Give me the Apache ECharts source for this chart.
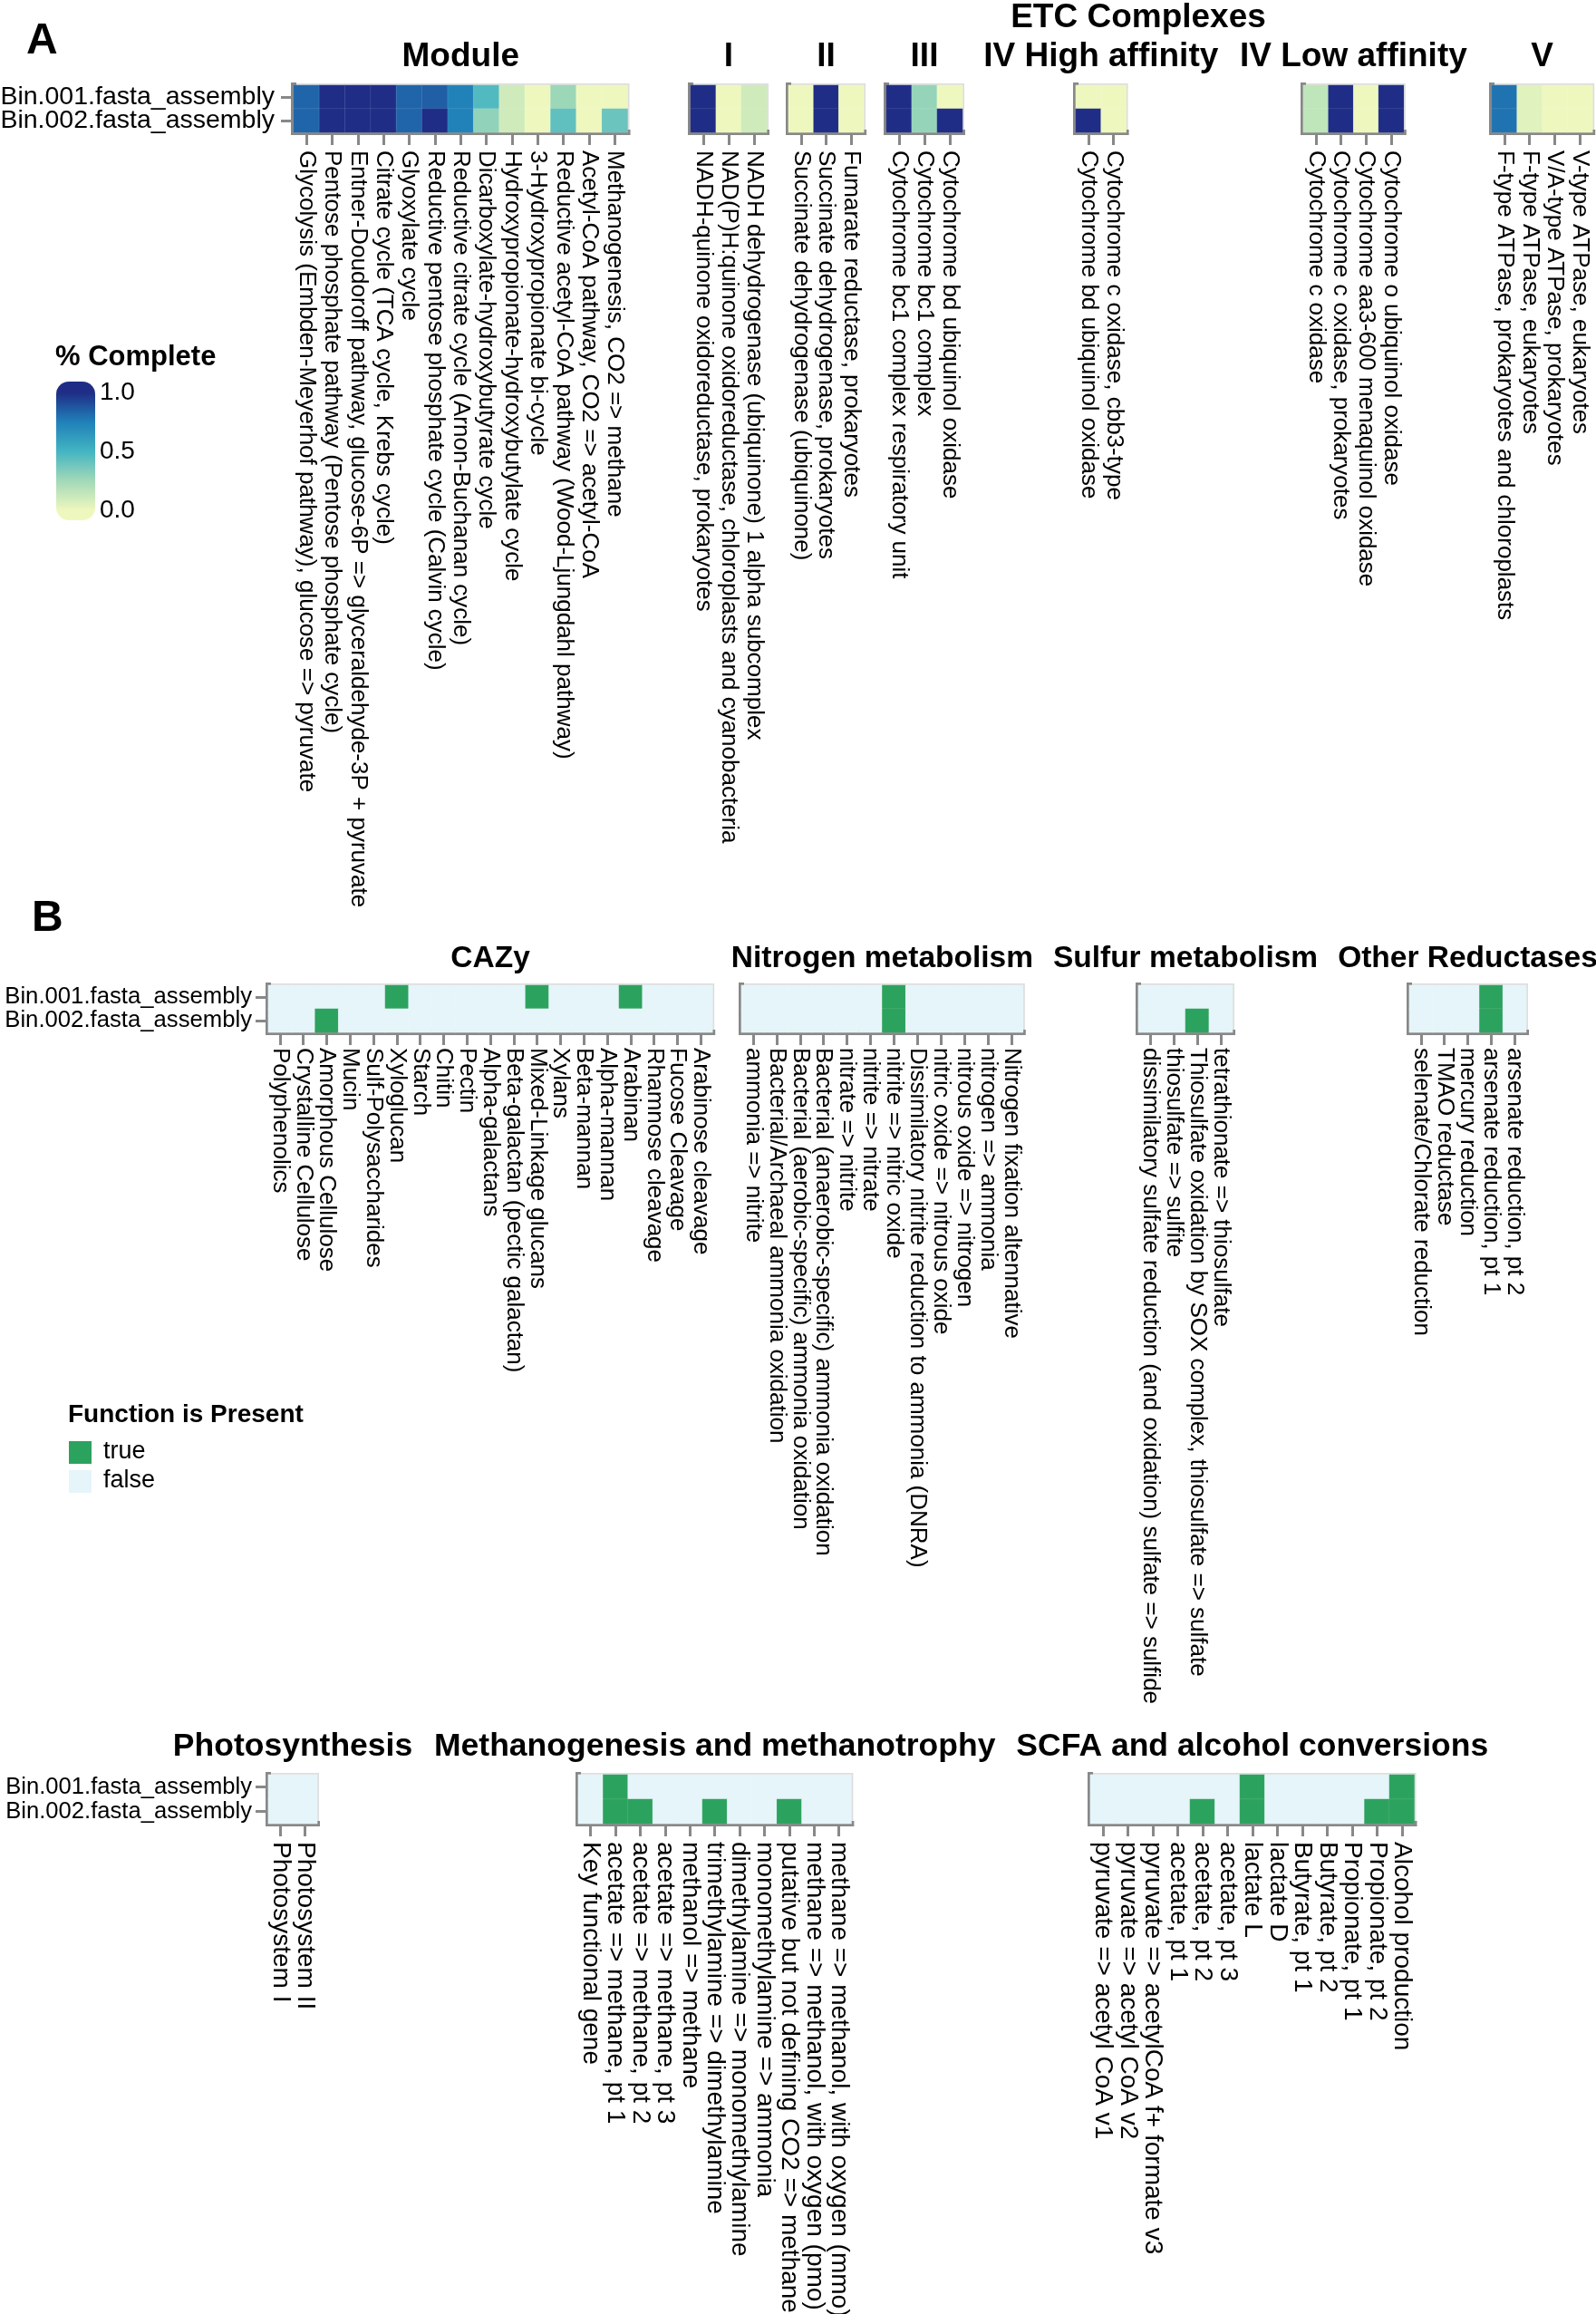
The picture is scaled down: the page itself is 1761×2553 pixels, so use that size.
<!DOCTYPE html>
<html><head><meta charset="utf-8">
<script src="https://cdn.jsdelivr.net/npm/echarts@6/dist/echarts.min.js"></script>
<style>html,body{margin:0;padding:0;background:#fff}#c{width:1761px;height:2553px}</style>
</head><body><div id="c"></div>
<script>
// ---------------- DATA ----------------
const bins = ['Bin.001.fasta_assembly', 'Bin.002.fasta_assembly'];

const moduleLabels = [
  'Glycolysis (Embden-Meyerhof pathway), glucose => pyruvate',
  'Pentose phosphate pathway (Pentose phosphate cycle)',
  'Entner-Doudoroff pathway, glucose-6P => glyceraldehyde-3P + pyruvate',
  'Citrate cycle (TCA cycle, Krebs cycle)',
  'Glyoxylate cycle',
  'Reductive pentose phosphate cycle (Calvin cycle)',
  'Reductive citrate cycle (Arnon-Buchanan cycle)',
  'Dicarboxylate-hydroxybutyrate cycle',
  'Hydroxypropionate-hydroxybutylate cycle',
  '3-Hydroxypropionate bi-cycle',
  'Reductive acetyl-CoA pathway (Wood-Ljungdahl pathway)',
  'Acetyl-CoA pathway, CO2 => acetyl-CoA',
  'Methanogenesis, CO2 => methane'
];
const moduleBin1 = [0.83, 1, 1, 1, 0.83, 0.85, 0.74, 0.46, 0.1, 0, 0.26, 0, 0];
const moduleBin2 = [0.83, 1, 1, 1, 0.83, 1, 0.74, 0.29, 0.1, 0, 0.42, 0, 0.39];

const etcILabels = ['NADH-quinone oxidoreductase, prokaryotes',
  'NAD(P)H:quinone oxidoreductase, chloroplasts and cyanobacteria',
  'NADH dehydrogenase (ubiquinone) 1 alpha subcomplex'];
const etcIBin1 = [1, 0, 0.1];
const etcIBin2 = [1, 0, 0.1];

const etcIILabels = ['Succinate dehydrogenase (ubiquinone)', 'Succinate dehydrogenase, prokaryotes',
  'Fumarate reductase, prokaryotes'];
const etcIIBin1 = [0, 1, 0];
const etcIIBin2 = [0, 1, 0];

const etcIIILabels = ['Cytochrome bc1 complex respiratory unit', 'Cytochrome bc1 complex',
  'Cytochrome bd ubiquinol oxidase'];
const etcIIIBin1 = [1, 0.28, 0];
const etcIIIBin2 = [1, 0.28, 1];

const etcIVHighLabels = ['Cytochrome bd ubiquinol oxidase', 'Cytochrome c oxidase, cbb3-type'];
const etcIVHighBin1 = [0, 0];
const etcIVHighBin2 = [1, 0];

const etcIVLowLabels = ['Cytochrome c oxidase', 'Cytochrome c oxidase, prokaryotes',
  'Cytochrome aa3-600 menaquinol oxidase', 'Cytochrome o ubiquinol oxidase'];
const etcIVLowBin1 = [0.15, 1, 0, 1];
const etcIVLowBin2 = [0.15, 1, 0, 1];

const etcVLabels = ['F-type ATPase, prokaryotes and chloroplasts', 'F-type ATPase, eukaryotes',
  'V/A-type ATPase, prokaryotes', 'V-type ATPase, eukaryotes'];
const etcVBin1 = [0.79, 0.045, 0, 0];
const etcVBin2 = [0.79, 0.045, 0, 0];

const cazyLabels = ['Polyphenolics', 'Crystalline Cellulose', 'Amorphous Cellulose', 'Mucin',
  'Sulf-Polysaccharides', 'Xyloglucan', 'Starch', 'Chitin', 'Pectin', 'Alpha-galactans',
  'Beta-galactan (pectic galactan)', 'Mixed-Linkage glucans', 'Xylans', 'Beta-mannan',
  'Alpha-mannan', 'Arabinan', 'Rhamnose cleavage', 'Fucose Cleavage', 'Arabinose cleavage'];
const cazyBin1 = [0,0,0,0,0,1,0,0,0,0,0,1,0,0,0,1,0,0,0];
const cazyBin2 = [0,0,1,0,0,0,0,0,0,0,0,0,0,0,0,0,0,0,0];

const nitrogenLabels = ['ammonia => nitrite', 'Bacterial/Archaeal ammonia oxidation',
  'Bacterial (aerobic-specific) ammonia oxidation', 'Bacterial (anaerobic-specific) ammonia oxidation',
  'nitrate => nitrite', 'nitrite => nitrate', 'nitrite => nitric oxide',
  'Dissimilatory nitrite reduction to ammonia (DNRA)', 'nitric oxide => nitrous oxide',
  'nitrous oxide => nitrogen', 'nitrogen => ammonia', 'Nitrogen fixation altennative'];
const nitrogenBin1 = [0,0,0,0,0,0,1,0,0,0,0,0];
const nitrogenBin2 = [0,0,0,0,0,0,1,0,0,0,0,0];

const sulfurLabels = ['dissimilatory sulfate reduction (and oxidation) sulfate => sulfide',
  'thiosulfate => sulfite', 'Thiosulfate oxidation by SOX complex, thiosulfate => sulfate',
  'tetrathionate => thiosulfate'];
const sulfurBin1 = [0,0,0,0];
const sulfurBin2 = [0,0,1,0];

const otherLabels = ['selenate/Chlorate reduction', 'TMAO reductase', 'mercury reduction',
  'arsenate reduction, pt 1', 'arsenate reduction, pt 2'];
const otherBin1 = [0,0,0,1,0];
const otherBin2 = [0,0,0,1,0];

const photoLabels = ['Photosystem I', 'Photosystem II'];
const photoBin1 = [0,0];
const photoBin2 = [0,0];

const methLabels = ['Key functional gene', 'acetate => methane, pt 1', 'acetate => methane, pt 2',
  'acetate => methane, pt 3', 'methanol => methane', 'trimethylamine => dimethylamine',
  'dimethylamine => monomethylamine', 'monomethylamine => ammonia',
  'putative but not defining CO2 => methane', 'methane => methanol, with oxygen (pmo)',
  'methane => methanol, with oxygen (mmo)'];
const methBin1 = [0,1,0,0,0,0,0,0,0,0,0];
const methBin2 = [0,1,1,0,0,1,0,0,1,0,0];

const scfaLabels = ['pyruvate => acetyl CoA v1', 'pyruvate => acetyl CoA v2',
  'pyruvate => acetylCoA f+ formate v3', 'acetate, pt 1', 'acetate, pt 2', 'acetate, pt 3',
  'lactate L', 'lactate D', 'Butyrate, pt 1', 'Butyrate, pt 2', 'Propionate, pt 1',
  'Propionate, pt 2', 'Alcohol production'];
const scfaBin1 = [0,0,0,0,0,0,1,0,0,0,0,0,1];
const scfaBin2 = [0,0,0,0,1,0,1,0,0,0,0,1,1];

const completeTicks = ['1.0', '0.5', '0.0'];
const presentLabels = ['true', 'false'];

// ---------------- LAYOUT ----------------
const FONT = '"Liberation Sans", Arial, Helvetica, sans-serif';
const GRAY = '#888888';
const TRUE_C = '#2ca25f', FALSE_C = '#e5f5f9';

const panels = [
  {name:'Module', labels:moduleLabels, v:[moduleBin1, moduleBin2], left:324, top:94, cw:28.35, ch:26, kind:'A', showY:true, fs:26, yfs:28.5, xm:20, ym:21, tfs:37, ty:63},
  {name:'I', labels:etcILabels, v:[etcIBin1, etcIBin2], left:762, top:94, cw:28, ch:26, kind:'A', fs:26, xm:20, tfs:37, ty:63},
  {name:'II', labels:etcIILabels, v:[etcIIBin1, etcIIBin2], left:870, top:94, cw:27.7, ch:26, kind:'A', fs:26, xm:20, tfs:37, ty:63},
  {name:'III', labels:etcIIILabels, v:[etcIIIBin1, etcIIIBin2], left:978, top:94, cw:28, ch:26, kind:'A', fs:26, xm:20, tfs:37, ty:63},
  {name:'IV High affinity', labels:etcIVHighLabels, v:[etcIVHighBin1, etcIVHighBin2], left:1187, top:94, cw:27.8, ch:26, kind:'A', fs:26, xm:20, tfs:37, ty:63},
  {name:'IV Low affinity', labels:etcIVLowLabels, v:[etcIVLowBin1, etcIVLowBin2], left:1438, top:94, cw:27.7, ch:26, kind:'A', fs:26, xm:20, tfs:37, ty:63},
  {name:'V', labels:etcVLabels, v:[etcVBin1, etcVBin2], left:1646, top:94, cw:27.8, ch:26, kind:'A', fs:26, xm:20, tfs:37, ty:63},

  {name:'CAZy', labels:cazyLabels, v:[cazyBin1, cazyBin2], left:296, top:1087, cw:25.8, ch:26, kind:'B', showY:true, fs:26, yfs:25.7, xm:17, ym:18, tfs:33.5, ty:1058},
  {name:'Nitrogen metabolism', labels:nitrogenLabels, v:[nitrogenBin1, nitrogenBin2], left:818, top:1087, cw:25.9, ch:26, kind:'B', fs:26, xm:17, tfs:33.5, ty:1058},
  {name:'Sulfur metabolism', labels:sulfurLabels, v:[sulfurBin1, sulfurBin2], left:1256, top:1087, cw:26, ch:26, kind:'B', fs:26, xm:17, tfs:33.5, ty:1058},
  {name:'Other Reductases', labels:otherLabels, v:[otherBin1, otherBin2], left:1555, top:1087, cw:25.8, ch:26, kind:'B', fs:26, xm:17, tfs:33.5, ty:1058},

  {name:'Photosynthesis', labels:photoLabels, v:[photoBin1, photoBin2], left:296, top:1958, cw:27, ch:27, kind:'B', showY:true, fs:28, yfs:25.6, xm:20, ym:18, tfs:35.5, ty:1927},
  {name:'Methanogenesis and methanotrophy', labels:methLabels, v:[methBin1, methBin2], left:638, top:1958, cw:27.4, ch:27, kind:'B', fs:28, xm:20, tfs:35.5, ty:1927},
  {name:'SCFA and alcohol conversions', labels:scfaLabels, v:[scfaBin1, scfaBin2], left:1203, top:1958, cw:27.5, ch:27, kind:'B', fs:28, xm:20, tfs:35.5, ty:1927}
];

const grid = [], xAxis = [], yAxis = [], series = [], graphic = [];
const idxA = [], idxB = [];

panels.forEach((p, i) => {
  const w = p.labels.length * p.cw, h = 2 * p.ch;
  grid.push({left:p.left, top:p.top, width:w, height:h, show:true, borderColor:'#dedede', borderWidth:4,
    backgroundColor:'transparent', containLabel:false, outerBoundsMode:'none'});
  xAxis.push({type:'category', gridIndex:i, data:p.labels, position:'bottom',
    axisLine:{show:true, lineStyle:{color:GRAY, width:6, cap:'square'}},
    axisTick:{show:true, alignWithLabel:true, interval:0, length:14, lineStyle:{color:GRAY, width:3}},
    axisLabel:{interval:0, rotate:-90, fontSize:p.fs, color:'#000', fontFamily:FONT, margin:p.xm, hideOverlap:false},
    splitLine:{show:false}});
  yAxis.push({type:'category', gridIndex:i, data:bins, inverse:true,
    axisLine:{show:true, lineStyle:{color:GRAY, width:6, cap:'square'}},
    axisTick:{show:!!p.showY, alignWithLabel:true, interval:0, length:14, lineStyle:{color:GRAY, width:3}},
    axisLabel:{show:!!p.showY, interval:0, fontSize:p.yfs || 24, color:'#000', fontFamily:FONT, margin:p.ym || 18, hideOverlap:false},
    splitLine:{show:false}});
  const data = [];
  p.v.forEach((row, j) => row.forEach((val, k) => data.push([k, j, val])));
  series.push({type:'heatmap', name:p.name, xAxisIndex:i, yAxisIndex:i, data,
    itemStyle:{borderColor:'rgba(255,255,255,0.10)', borderWidth:1},
    emphasis:{disabled:true}, label:{show:false}});
  (p.kind === 'A' ? idxA : idxB).push(i);
  graphic.push({type:'text', x:p.left + w / 2, y:p.ty, style:{text:p.name, textAlign:'center', textVerticalAlign:'middle',
    font:'bold ' + p.tfs + 'px ' + FONT, fill:'#000'}});
});

// panel letters / header
graphic.push({type:'text', x:29, y:46, style:{text:'A', textAlign:'left', textVerticalAlign:'middle', font:'bold 48px ' + FONT, fill:'#000'}});
graphic.push({type:'text', x:35, y:1014, style:{text:'B', textAlign:'left', textVerticalAlign:'middle', font:'bold 48px ' + FONT, fill:'#000'}});
graphic.push({type:'text', x:1256, y:20, style:{text:'ETC Complexes', textAlign:'center', textVerticalAlign:'middle', font:'bold 37px ' + FONT, fill:'#000'}});

// continuous legend (panel A)
graphic.push({type:'text', x:61, y:394, style:{text:'% Complete', textAlign:'left', textVerticalAlign:'middle', font:'bold 31px ' + FONT, fill:'#000'}});
graphic.push({type:'rect', shape:{x:62, y:421, width:43, height:153, r:14},
  style:{fill:new echarts.graphic.LinearGradient(0, 0, 0, 1, [
    {offset:0.0, color:'#1f2d86'}, {offset:0.08, color:'#1f2d86'}, {offset:0.29, color:'#2080b9'},
    {offset:0.5, color:'#42b4c2'}, {offset:0.71, color:'#a0d8b8'}, {offset:0.93, color:'#eef8be'},
    {offset:1, color:'#eef8be'}])}});
completeTicks.forEach((t, i) => {
  graphic.push({type:'text', x:110, y:433 + i * 65, style:{text:t, textAlign:'left', textVerticalAlign:'middle', font:'28px ' + FONT, fill:'#000'}});
});

// discrete legend (panel B)
graphic.push({type:'text', x:75, y:1561, style:{text:'Function is Present', textAlign:'left', textVerticalAlign:'middle', font:'bold 28px ' + FONT, fill:'#000'}});
[TRUE_C, FALSE_C].forEach((c, i) => {
  graphic.push({type:'rect', shape:{x:76, y:1590 + i * 32, width:25, height:25}, style:{fill:c}});
  graphic.push({type:'text', x:114, y:1602 + i * 32, style:{text:presentLabels[i], textAlign:'left', textVerticalAlign:'middle', font:'27px ' + FONT, fill:'#000'}});
});

const option = {
  backgroundColor:'#ffffff',
  animation:false,
  grid, xAxis, yAxis, series, graphic,
  visualMap:[
    {type:'continuous', show:false, min:0, max:1, dimension:2, seriesIndex:idxA,
      inRange:{color:['#eef8be', '#a0d8b8', '#42b4c2', '#2080b9', '#1f2d86']}},
    {type:'piecewise', show:false, dimension:2, seriesIndex:idxB,
      pieces:[{value:1, label:presentLabels[0], color:TRUE_C}, {value:0, label:presentLabels[1], color:FALSE_C}]}
  ]
};

const chart = echarts.init(document.getElementById('c'), null, {renderer:'canvas'});
chart.setOption(option);
</script></body></html>
